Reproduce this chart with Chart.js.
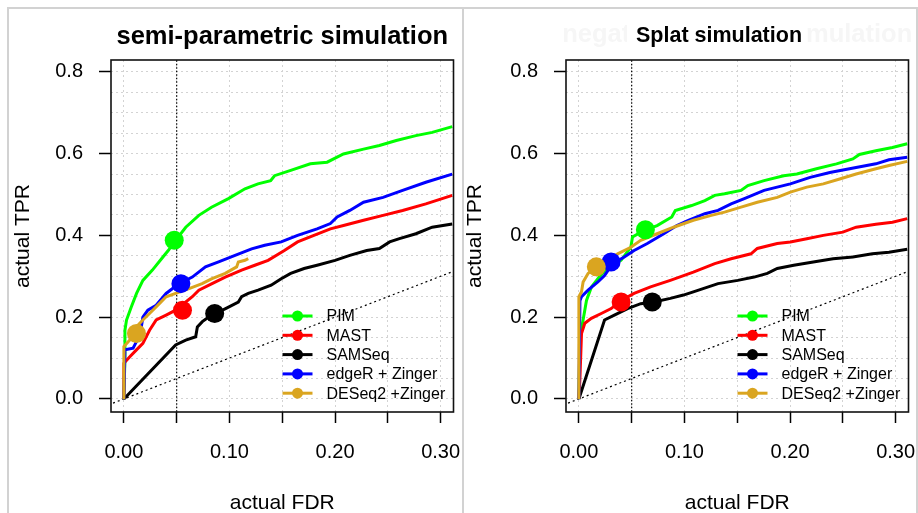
<!DOCTYPE html>
<html>
<head>
<meta charset="utf-8">
<script src="https://cdn.jsdelivr.net/npm/chart.js@4.4.0/dist/chart.umd.min.js"></script>
<style>
  html, body { margin: 0; padding: 0; background: #fff; overflow: hidden; }
  #page { position: relative; width: 918px; height: 513px; }
  canvas { position: absolute; top: 0; }
  #semi { left: 0; }
  #splat { left: 463px; }
  .frame { position: absolute; top: 7px; height: 600px; border: 2px solid #d2d2d2; border-bottom: none; box-sizing: border-box; }
</style>
</head>
<body>
<div id="page">
  <div class="frame" style="left:7px; width:457px; border-right:none"></div>
  <div class="frame" style="left:462px; width:456px"></div>
  <canvas id="semi" width="463" height="513"></canvas>
  <canvas id="splat" width="455" height="513"></canvas>
</div>
<script>
const methods = ["PIM", "MAST", "SAMSeq", "edgeR + Zinger", "DESeq2 +Zinger"];
const colors = ["#00ff00", "#ff0000", "#000000", "#0000ff", "#daa520"];
const xTickLabels = [0, 0.1, 0.2, 0.3];
const yTickLabels = [0, 0.2, 0.4, 0.6, 0.8];
const nominalFdr = 0.05;

// semi-parametric simulation
const semiPimFdr = [0, 0.001, 0.001, 0.0025, 0.007, 0.012, 0.018, 0.027, 0.037, 0.042, 0.049, 0.0586, 0.071, 0.083, 0.099, 0.1147, 0.127, 0.139, 0.1427, 0.158, 0.1766, 0.1925, 0.208, 0.227, 0.242, 0.258, 0.2766, 0.292, 0.311];
const semiPimTpr = [0, 0.10, 0.168, 0.193, 0.225, 0.258, 0.29, 0.315, 0.347, 0.363, 0.388, 0.420, 0.449, 0.469, 0.490, 0.514, 0.526, 0.534, 0.546, 0.559, 0.575, 0.579, 0.599, 0.611, 0.620, 0.632, 0.644, 0.652, 0.666];
const semiMastFdr = [0, 0, 0.0056, 0.0119, 0.018, 0.0243, 0.0306, 0.040, 0.049, 0.0648, 0.071, 0.0835, 0.096, 0.1115, 0.124, 0.1366, 0.152, 0.1645, 0.180, 0.1956, 0.208, 0.227, 0.2455, 0.264, 0.286, 0.311];
const semiMastTpr = [0, 0.087, 0.103, 0.12, 0.136, 0.168, 0.193, 0.205, 0.217, 0.25, 0.266, 0.282, 0.298, 0.315, 0.327, 0.339, 0.363, 0.384, 0.40, 0.416, 0.424, 0.437, 0.449, 0.461, 0.477, 0.498];
const semiSamFdr = [0, 0.049, 0.0586, 0.068, 0.0696, 0.0743, 0.0806, 0.0869, 0.0963, 0.1084, 0.1115, 0.1178, 0.1271, 0.1395, 0.149, 0.158, 0.1707, 0.183, 0.200, 0.214, 0.230, 0.242, 0.2517, 0.261, 0.2766, 0.292, 0.311];
const semiSamTpr = [0, 0.132, 0.144, 0.152, 0.176, 0.189, 0.201, 0.209, 0.221, 0.237, 0.25, 0.258, 0.266, 0.278, 0.294, 0.307, 0.319, 0.327, 0.339, 0.351, 0.363, 0.368, 0.384, 0.392, 0.404, 0.420, 0.428];
const semiEdgeFdr = [0, 0.001, 0.0087, 0.0119, 0.015, 0.018, 0.0227, 0.0306, 0.040, 0.0523, 0.0648, 0.0773, 0.0897, 0.1053, 0.121, 0.1334, 0.149, 0.1645, 0.183, 0.1956, 0.202, 0.214, 0.227, 0.2455, 0.264, 0.286, 0.311];
const semiEdgeTpr = [0, 0.12, 0.124, 0.14, 0.152, 0.20, 0.217, 0.229, 0.258, 0.282, 0.298, 0.323, 0.335, 0.351, 0.367, 0.376, 0.384, 0.40, 0.416, 0.429, 0.445, 0.461, 0.481, 0.493, 0.510, 0.530, 0.550];
const semiDeseqFdr = [0, 0, 0.0056, 0.0087, 0.018, 0.0274, 0.0336, 0.040, 0.049, 0.0617, 0.0741, 0.0835, 0.096, 0.1068, 0.1084, 0.1147, 0.1178];
const semiDeseqTpr = [0, 0.128, 0.144, 0.168, 0.193, 0.217, 0.233, 0.25, 0.258, 0.27, 0.282, 0.294, 0.307, 0.323, 0.335, 0.339, 0.343];
const semiPointFdr = [0.0477, 0.0555, 0.086, 0.054, 0.0119];
const semiPointTpr = [0.388, 0.217, 0.209, 0.282, 0.160];

// Splat simulation
const splatPimFdr = [0, 0.001, 0.004, 0.0072, 0.0119, 0.018, 0.0274, 0.0399, 0.0492, 0.0508, 0.0617, 0.0741, 0.088, 0.0913, 0.1068, 0.1193, 0.1287, 0.138, 0.1536, 0.160, 0.1754, 0.194, 0.2065, 0.225, 0.244, 0.2595, 0.2657, 0.2813, 0.297, 0.311];
const splatPimTpr = [0, 0.152, 0.193, 0.241, 0.274, 0.294, 0.323, 0.339, 0.371, 0.396, 0.412, 0.424, 0.445, 0.461, 0.473, 0.485, 0.498, 0.502, 0.510, 0.522, 0.534, 0.546, 0.550, 0.563, 0.575, 0.587, 0.598, 0.607, 0.615, 0.624];
const splatMastFdr = [0, 0.001, 0.0025, 0.0056, 0.0118, 0.0212, 0.0306, 0.040, 0.0523, 0.0679, 0.0866, 0.1084, 0.1287, 0.1442, 0.163, 0.169, 0.1879, 0.2003, 0.2159, 0.2315, 0.250, 0.2626, 0.2813, 0.297, 0.311];
const splatMastTpr = [0, 0.05, 0.16, 0.185, 0.197, 0.209, 0.221, 0.241, 0.258, 0.274, 0.29, 0.31, 0.331, 0.343, 0.355, 0.368, 0.380, 0.384, 0.392, 0.40, 0.408, 0.420, 0.427, 0.432, 0.441];
const splatSamFdr = [0, 0.0243, 0.0336, 0.0461, 0.0586, 0.071, 0.0866, 0.099, 0.1084, 0.1318, 0.1505, 0.166, 0.1785, 0.1879, 0.2035, 0.222, 0.2408, 0.2595, 0.278, 0.2937, 0.311];
const splatSamTpr = [0, 0.193, 0.205, 0.221, 0.233, 0.237, 0.246, 0.254, 0.262, 0.282, 0.290, 0.298, 0.307, 0.319, 0.327, 0.335, 0.343, 0.347, 0.355, 0.359, 0.366];
const splatEdgeFdr = [0, 0.001, 0.0025, 0.0087, 0.018, 0.0243, 0.032, 0.043, 0.0523, 0.0648, 0.0804, 0.0928, 0.1037, 0.1193, 0.1318, 0.1442, 0.1567, 0.1754, 0.2003, 0.219, 0.2377, 0.2563, 0.2813, 0.2937, 0.311];
const splatEdgeTpr = [0, 0.24, 0.25, 0.266, 0.286, 0.302, 0.331, 0.347, 0.363, 0.38, 0.404, 0.424, 0.437, 0.453, 0.461, 0.477, 0.490, 0.510, 0.526, 0.542, 0.554, 0.563, 0.575, 0.585, 0.591];
const splatDeseqFdr = [0, 0, 0.0025, 0.004, 0.0087, 0.0165, 0.0274, 0.0367, 0.0492, 0.0586, 0.0741, 0.0897, 0.1084, 0.1255, 0.138, 0.1536, 0.169, 0.1879, 0.2003, 0.2159, 0.2315, 0.247, 0.2626, 0.2813, 0.2937, 0.311];
const splatDeseqTpr = [0, 0.25, 0.262, 0.286, 0.307, 0.323, 0.339, 0.355, 0.371, 0.388, 0.404, 0.42, 0.437, 0.449, 0.457, 0.469, 0.481, 0.493, 0.506, 0.518, 0.526, 0.538, 0.550, 0.563, 0.571, 0.581];
const splatPointFdr = [0.063, 0.040, 0.0695, 0.0305, 0.0165];
const splatPointTpr = [0.414, 0.237, 0.237, 0.335, 0.323];

const FONT = "'Liberation Sans', Arial, sans-serif";
Chart.defaults.font.family = FONT;
Chart.defaults.color = "#000";

const xy = (xs, ys) => xs.map((x, i) => ({ x: x, y: ys[i] }));
const steps = (max) => Array.from({ length: Math.round(max / 0.05) + 1 }, (_, i) => +(i * 0.05).toFixed(2));
const isLabel = (list, v) => list.some((t) => Math.abs(t - v) < 1e-6);

function makeChart(id, curves, pointFdr, pointTpr, yWidth, rightPad, yTitlePad, drawTitle) {
  const datasets = curves.map((c, i) => ({
    label: methods[i],
    data: xy(c[0], c[1]),
    showLine: true,
    borderColor: colors[i],
    borderWidth: 3,
    pointRadius: 0,
    order: 10 - i,
  }));
  datasets.push({
    label: "points",
    data: xy(pointFdr, pointTpr),
    backgroundColor: colors,
    borderWidth: 0,
    pointRadius: 9.5,
    order: 1,
  });
  datasets.push({
    label: "diagonal",
    data: [{ x: -0.05, y: -0.05 }, { x: 0.4, y: 0.4 }],
    showLine: true,
    borderColor: "#000",
    borderWidth: 1.2,
    borderDash: [2, 3],
    pointRadius: 0,
    order: 20,
  });
  datasets.push({
    label: "nominal",
    data: [{ x: nominalFdr, y: -0.1 }, { x: nominalFdr, y: 1 }],
    showLine: true,
    borderColor: "#000",
    borderWidth: 1.2,
    borderDash: [1.5, 2],
    pointRadius: 0,
    order: 20,
  });

  const decor = {
    id: "decor",
    afterDatasetsDraw(chart) {
      const { ctx, chartArea: a } = chart;
      ctx.save();
      ctx.strokeStyle = "#111";
      ctx.lineWidth = 1.6;
      ctx.strokeRect(a.left, a.top, a.right - a.left, a.bottom - a.top);
      // legend
      ctx.font = "16px " + FONT;
      ctx.textBaseline = "middle";
      ctx.textAlign = "left";
      methods.forEach((m, i) => {
        const y = a.bottom - 96 + i * 19.3;
        ctx.strokeStyle = colors[i];
        ctx.lineWidth = 3;
        ctx.beginPath();
        ctx.moveTo(a.right - 171, y);
        ctx.lineTo(a.right - 141, y);
        ctx.stroke();
        ctx.fillStyle = colors[i];
        ctx.beginPath();
        ctx.arc(a.right - 156, y, 5.5, 0, Math.PI * 2);
        ctx.fill();
        ctx.fillStyle = "#000";
        ctx.fillText(m, a.right - 127, y + 1);
      });
      drawTitle(ctx, a);
      ctx.restore();
    },
  };

  return new Chart(id, {
    type: "scatter",
    data: { datasets: datasets },
    plugins: [decor],
    options: {
      responsive: false,
      animation: false,
      devicePixelRatio: 1,
      layout: { padding: { left: 0, right: rightPad, top: 60, bottom: 0 } },
      plugins: { legend: { display: false }, tooltip: { enabled: false }, title: { display: false } },
      scales: {
        x: {
          type: "linear",
          min: -0.0122,
          max: 0.3122,
          afterBuildTicks: (s) => { s.ticks = steps(0.3).map((v) => ({ value: v })); },
          afterFit: (s) => { s.height = 101; s.paddingLeft = 0; s.paddingRight = 0; },
          ticks: {
            callback: (v) => (isLabel(xTickLabels, v) ? v.toFixed(2) : ""),
            font: { size: 20 },
            color: "#000",
            padding: 17,
            maxRotation: 0,
            autoSkip: false,
          },
          grid: { color: "#d3d3d3", lineWidth: 1, tickLength: 11, tickWidth: 1.5, tickColor: "#000", tickBorderDash: [] },
          border: { display: false, dash: [2, 3] },
          title: { display: true, text: "actual FDR", font: { size: 21 }, color: "#000", padding: { top: 0, bottom: -3 } },
        },
        y: {
          type: "linear",
          min: -0.032,
          max: 0.829,
          afterBuildTicks: (s) => { s.ticks = steps(0.8).map((v) => ({ value: v })); },
          afterFit: (s) => { s.width = yWidth; s.paddingTop = 0; s.paddingBottom = 0; },
          ticks: {
            callback: (v) => (isLabel(yTickLabels, v) ? v.toFixed(1) : ""),
            font: { size: 20 },
            color: "#000",
            padding: 16,
            autoSkip: false,
          },
          grid: {
            color: "#d3d3d3",
            lineWidth: 1,
            tickLength: 12,
            tickWidth: 1.5,
            tickColor: (c) => (c.tick && isLabel(yTickLabels, c.tick.value) ? "#000" : "rgba(0,0,0,0)"),
            tickBorderDash: [],
          },
          border: { display: false, dash: [2, 3] },
          title: { display: true, text: "actual TPR", font: { size: 21 }, color: "#000", padding: { top: yTitlePad, bottom: 0 } },
        },
      },
    },
  });
}

makeChart(
  "semi",
  [[semiPimFdr, semiPimTpr], [semiMastFdr, semiMastTpr], [semiSamFdr, semiSamTpr], [semiEdgeFdr, semiEdgeTpr], [semiDeseqFdr, semiDeseqTpr]],
  semiPointFdr, semiPointTpr, 111, 5, 11,
  (ctx, a) => {
    ctx.font = "bold 25.5px " + FONT;
    ctx.textAlign = "center";
    ctx.textBaseline = "alphabetic";
    ctx.fillStyle = "#000";
    ctx.fillText("semi-parametric simulation", (a.left + a.right) / 2, 44);
  }
);

makeChart(
  "splat",
  [[splatPimFdr, splatPimTpr], [splatMastFdr, splatMastTpr], [splatSamFdr, splatSamTpr], [splatEdgeFdr, splatEdgeTpr], [splatDeseqFdr, splatDeseqTpr]],
  splatPointFdr, splatPointTpr, 103, 5.3, 0,
  (ctx, a) => {
    ctx.textBaseline = "alphabetic";
    // faint title underneath, mostly covered
    ctx.font = "bold 25.5px " + FONT;
    ctx.textAlign = "center";
    ctx.fillStyle = "#f6f6f6";
    ctx.fillText("negative binomial simulation", (a.left + a.right) / 2, 42);
    ctx.fillStyle = "#fff";
    ctx.fillRect(164, 18, 179, 34);
    ctx.font = "bold 21.5px " + FONT;
    ctx.fillStyle = "#000";
    ctx.fillText("Splat simulation", 256, 42);
  }
);
</script>
</body>
</html>
